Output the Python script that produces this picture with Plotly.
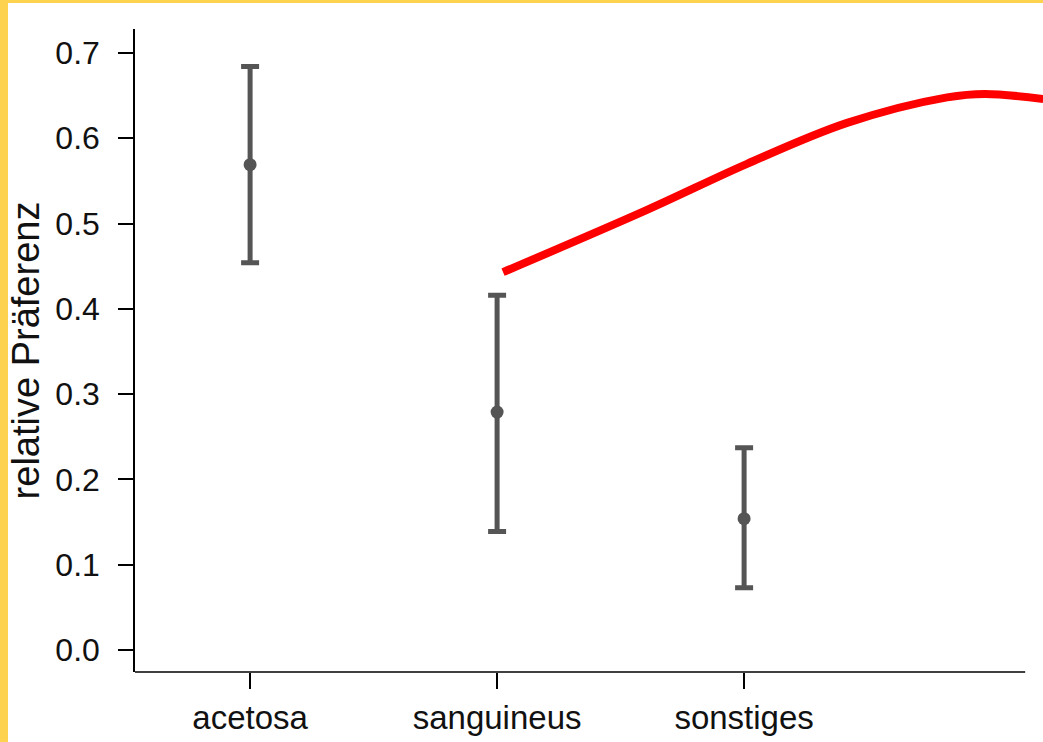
import plotly.graph_objects as go

# Mean preference per category with confidence limits
categories = ["acetosa", "sanguineus", "sonstiges"]
means = [0.569, 0.279, 0.154]
upper = [0.684, 0.416, 0.237]
lower = [0.454, 0.139, 0.073]

# Hand-drawn red trend curve (category units, preference)
curve_x = [1.024, 1.607, 2.012, 2.417, 2.822, 2.976, 3.211]
curve_y = [0.443, 0.516, 0.570, 0.618, 0.648, 0.652, 0.646]

W, H = 1043, 742
ML, MR, MT, MB = 135, 0, 29, 70
PW, PH = W - ML - MR, H - MT - MB

x_min = -0.466
x_max = x_min + PW / 247.0
x_axis_end = 3.138

gray = "#555555"

fig = go.Figure()

fig.add_trace(go.Scatter(
    x=list(range(len(categories))),
    y=means,
    mode="markers",
    marker=dict(color=gray, size=13),
    error_y=dict(
        type="data",
        symmetric=False,
        array=[u - m for u, m in zip(upper, means)],
        arrayminus=[m - l for m, l in zip(means, lower)],
        color=gray,
        thickness=5,
        width=9,
    ),
    showlegend=False,
    hoverinfo="skip",
))

fig.add_trace(go.Scatter(
    x=curve_x,
    y=curve_y,
    mode="lines",
    line=dict(color="#ff0000", width=8, shape="spline", smoothing=1.0),
    showlegend=False,
    hoverinfo="skip",
))

shapes = [
    # bottom axis line, stopping short of the right edge
    dict(type="line", xref="x", yref="paper", x0=x_min, x1=x_axis_end, y0=0, y1=0,
         line=dict(color="black", width=1.5)),
    # yellow frame on the left and top
    dict(type="rect", xref="paper", yref="paper",
         x0=-ML / PW, x1=(8 - ML) / PW, y0=-MB / PH, y1=(PH + MT) / PH,
         fillcolor="#FDD24F", line=dict(width=0), layer="above"),
    dict(type="rect", xref="paper", yref="paper",
         x0=-ML / PW, x1=1.0, y0=(PH + MT - 3) / PH, y1=(PH + MT) / PH,
         fillcolor="#FDD24F", line=dict(width=0), layer="above"),
]

fig.update_layout(
    width=W, height=H,
    margin=dict(l=ML, r=MR, t=MT, b=MB, pad=0),
    paper_bgcolor="white",
    plot_bgcolor="white",
    font=dict(family="Liberation Sans, Arial, sans-serif", color="#111111"),
    shapes=shapes,
    xaxis=dict(
        range=[x_min, x_max],
        tickvals=list(range(len(categories))),
        ticktext=categories,
        ticks="outside", ticklen=16, tickwidth=1.5, tickcolor="black",
        tickfont=dict(size=33),
        showline=False, showgrid=False, zeroline=False,
    ),
    yaxis=dict(
        range=[-0.0258, 0.7281],
        tickvals=[0, 0.1, 0.2, 0.3, 0.4, 0.5, 0.6, 0.7],
        tickformat=".1f",
        ticks="outside", ticklen=15, tickwidth=1.5, tickcolor="black",
        tickfont=dict(size=32),
        ticklabelstandoff=12,
        showline=True, linecolor="black", linewidth=1.5,
        showgrid=False, zeroline=False,
        title=dict(text="relative Präferenz", font=dict(size=38), standoff=4),
    ),
)

fig.write_html("out.html")
